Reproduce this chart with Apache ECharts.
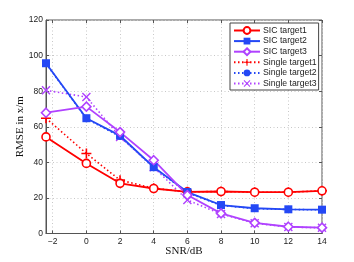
<!DOCTYPE html>
<html>
<head>
<meta charset="utf-8">
<script src="https://cdn.jsdelivr.net/npm/echarts@6/dist/echarts.min.js"></script>
<style>html,body{margin:0;padding:0;background:#fff;}#c{width:354px;height:262px;}</style>
</head>
<body>
<div id="c"></div>
<script>
const snr = [-2.4, 0, 2, 4, 6, 8, 10, 12, 14];
const sicTarget1 = [54.3, 39.4, 28.2, 25.3, 23.4, 23.6, 23.2, 23.2, 24.0];
const sicTarget2 = [95.7, 64.8, 55.0, 37.3, 23.3, 16.0, 14.2, 13.6, 13.4];
const sicTarget3 = [67.9, 71.3, 57.0, 41.2, 21.6, 11.3, 6.0, 3.8, 3.3];
const singleTarget1 = [64.8, 45.0, 30.0, 25.4, 23.4, 23.6, 23.2, 23.2, 24.0];
const singleTarget2 = [95.5, 64.5, 54.5, 37.0, 23.0, 15.8, 14.0, 13.5, 13.3];
const singleTarget3 = [80.5, 76.7, 54.3, 37.3, 18.8, 11.0, 5.8, 3.6, 3.2];
const yTicks = [0, 20, 40, 60, 80, 100, 120];
const names = ['SIC target1','SIC target2','SIC target3','Single target1','Single target2','Single target3'];

const RED = '#ff0000', BLUE = '#2448f5', PURPLE = '#b042ff';
const plusPath = 'path://M4.2,0 L5.8,0 L5.8,4.2 L10,4.2 L10,5.8 L5.8,5.8 L5.8,10 L4.2,10 L4.2,5.8 L0,5.8 L0,4.2 L4.2,4.2 Z';
const crossPath = 'path://M1.1,0 L5,3.9 L8.9,0 L10,1.1 L6.1,5 L10,8.9 L8.9,10 L5,6.1 L1.1,10 L0,8.9 L3.9,5 L0,1.1 Z';

function pts(arr){ return snr.map((x,i)=>[x,arr[i]]); }

function mk(name, data, color, symbol, size, dotted, hollow, z){
  return {
    name, type:'line', data: pts(data), z,
    symbol, symbolSize: size, showAllSymbol: true,
    lineStyle: {color, width: dotted ? 1.6 : 1.8, type: dotted ? [1.5, 2.5] : 'solid'},
    itemStyle: hollow ? {color:'#fff', borderColor: color, borderWidth: 1.6} : {color, borderColor: color, borderWidth: 0},
    emphasis: {disabled: true},
    animation: false
  };
}

const chart = echarts.init(document.getElementById('c'));
chart.setOption({
  animation: false,
  grid: {left: 46, right: 32, top: 20, bottom: 28.5, show: true, borderColor: '#555', borderWidth: 1, containLabel: false},
  legend: {
    data: names, orient: 'vertical', left: 230, top: 23,
    padding: [3, 2, 2, 3], itemGap: 1.6, itemWidth: 26, itemHeight: 8.5,
    backgroundColor: '#fff', borderColor: '#444', borderWidth: 1, borderRadius: 0,
    textStyle: {fontFamily: 'Liberation Sans', fontSize: 8.7, color: '#222', padding: [0,0,0,-2]}
  },
  xAxis: [{
    type: 'value', min: -2.4, max: 14, splitNumber: 8, minInterval: 2, maxInterval: 2,
    name: 'SNR/dB', nameLocation: 'middle', nameGap: 12, nameMoveOverlap: false,
    nameTextStyle: {fontFamily: 'Liberation Serif', fontSize: 11, color: '#111'},
    axisLine: {show: true, onZero: false, lineStyle: {color: '#555'}},
    axisTick: {show: true, inside: true, length: 3, lineStyle: {color: '#555'}},
    axisLabel: {fontFamily: 'Liberation Sans', fontSize: 8.5, color: '#222', margin: 4,
      formatter: v => (Math.abs(v % 2) < 1e-9 ? (v < 0 ? '\u2212' + Math.abs(v) : String(v)) : '')},
    splitLine: {show: true, lineStyle: {color: '#c8c8c8', type: [1, 2.5], width: 1}}
  }, {
    type: 'value', position: 'top', min: -2.4, max: 14, splitNumber: 8, minInterval: 2, maxInterval: 2,
    axisLine: {show: false, onZero: false}, axisLabel: {show: false}, splitLine: {show: false},
    axisTick: {show: true, inside: true, length: 3, lineStyle: {color: '#555'}}
  }],
  yAxis: [{
    type: 'value', min: 0, max: 120, interval: 20,
    name: 'RMSE in x/m', nameLocation: 'middle', nameGap: 20, nameMoveOverlap: false,
    nameTextStyle: {fontFamily: 'Liberation Serif', fontSize: 11, color: '#111'},
    axisLine: {show: true, onZero: false, lineStyle: {color: '#555'}},
    axisTick: {show: true, inside: true, length: 3, lineStyle: {color: '#555'}},
    axisLabel: {fontFamily: 'Liberation Sans', fontSize: 8.5, color: '#222', margin: 3,
      formatter: v => (yTicks.includes(v) ? String(v) : '')},
    splitLine: {show: true, lineStyle: {color: '#c8c8c8', type: [1, 2.5], width: 1}}
  }, {
    type: 'value', position: 'right', min: 0, max: 120, interval: 20,
    axisLine: {show: false, onZero: false}, axisLabel: {show: false}, splitLine: {show: false},
    axisTick: {show: true, inside: true, length: 3, lineStyle: {color: '#555'}}
  }],
  series: [
    mk('Single target1', singleTarget1, RED, plusPath, 10, true, false, 2),
    mk('Single target2', singleTarget2, BLUE, 'circle', 7, true, false, 2),
    mk('Single target3', singleTarget3, PURPLE, crossPath, 9, true, false, 2),
    mk('SIC target1', sicTarget1, RED, 'circle', 8, false, true, 3),
    mk('SIC target2', sicTarget2, BLUE, 'rect', 8, false, false, 3),
    mk('SIC target3', sicTarget3, PURPLE, 'diamond', 9, false, true, 3)
  ]
});
</script>
</body>
</html>
